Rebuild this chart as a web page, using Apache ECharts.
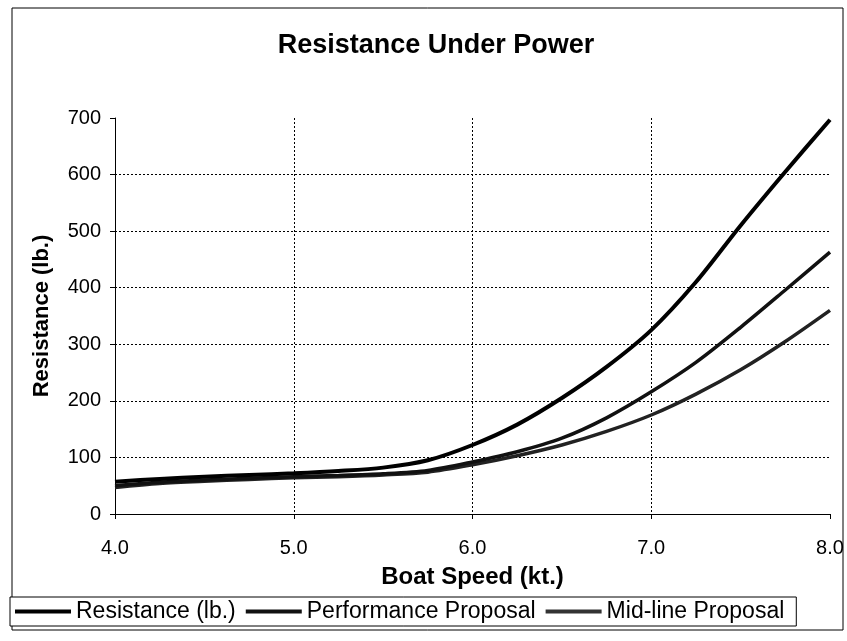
<!DOCTYPE html>
<html>
<head>
<meta charset="utf-8">
<script src="https://cdn.jsdelivr.net/npm/echarts@6/dist/echarts.min.js"></script>
<style>html,body{margin:0;padding:0;background:#fff}#c{width:847px;height:641px}</style>
</head>
<body>
<div id="c"></div>
<script>
const speeds = [4.0, 4.25, 4.5, 4.75, 5.0, 5.25, 5.5, 5.75, 6.0, 6.25, 6.5, 6.75, 7.0, 7.25, 7.5, 7.75, 8.0];
const resistance = [57, 62, 66, 69, 72, 76, 82, 95, 122, 158, 205, 260, 325, 410, 510, 605, 697];
const performance = [50, 56, 60, 63, 66, 68, 71, 77, 92, 110, 134, 170, 216, 268, 330, 396, 463];
const midline = [47, 54, 58, 61, 64, 66, 69, 74, 87, 103, 122, 146, 175, 212, 255, 305, 360];
const seriesNames = ['Resistance (lb.)', 'Performance Proposal', 'Mid-line Proposal'];
const xTicks = [4, 5, 6, 7, 8];

const FONT = '"Liberation Sans", Arial, sans-serif';
const pairs = ys => speeds.map((x, i) => [x, ys[i]]);

const chart = echarts.init(document.getElementById('c'), null, {renderer: 'canvas'});
chart.setOption({
  animation: false,
  backgroundColor: '#fff',
  title: {
    text: 'Resistance Under Power',
    left: 431, top: 27, textAlign: 'center',
    textStyle: {fontFamily: FONT, fontSize: 27, fontWeight: 'bold', color: '#000'}
  },
  graphic: [{
    type: 'rect', z: -1,
    shape: {x: 12, y: 8, width: 831, height: 622},
    style: {fill: 'none', stroke: '#000', lineWidth: 1}
  }],
  grid: {left: 115, right: 17, top: 118, bottom: 127, outerBoundsMode: 'none'},
  legend: {
    data: seriesNames,
    left: 10, top: 597, orient: 'horizontal',
    itemWidth: 56, itemHeight: 4, itemGap: 10,
    padding: [3, 12, 3, 5],
    borderColor: '#000', borderWidth: 1, backgroundColor: '#fff',
    textStyle: {fontFamily: FONT, fontSize: 23, color: '#000'},
    icon: 'rect'
  },
  xAxis: {
    type: 'value', min: 4, max: 8, interval: 1,
    name: 'Boat Speed (kt.)', nameLocation: 'middle', nameGap: 51,
    nameTextStyle: {fontFamily: FONT, fontSize: 24, fontWeight: 'bold', color: '#000'},
    axisLine: {show: true, lineStyle: {color: '#000', width: 1}},
    axisTick: {show: true, length: 5, lineStyle: {color: '#000'}},
    axisLabel: {margin: 24, fontFamily: FONT, fontSize: 20, color: '#000',
      formatter: v => xTicks.includes(v) ? v.toFixed(1) : ''},
    splitLine: {show: true, showMinLine: false, showMaxLine: false,
      lineStyle: {color: '#000', type: [2, 2], width: 1}}
  },
  yAxis: {
    type: 'value', min: 0, max: 700, interval: 100,
    name: 'Resistance (lb.)', nameLocation: 'middle', nameGap: 62,
    nameTextStyle: {fontFamily: FONT, fontSize: 22, fontWeight: 'bold', color: '#000'},
    axisLine: {show: true, lineStyle: {color: '#000', width: 1}},
    axisTick: {show: true, length: 5, lineStyle: {color: '#000'}},
    axisLabel: {margin: 14, fontFamily: FONT, fontSize: 20, color: '#000'},
    splitLine: {show: true, showMinLine: false, showMaxLine: false,
      lineStyle: {color: '#000', type: [2, 2], width: 1}}
  },
  series: [
    {name: seriesNames[0], type: 'line', data: pairs(resistance), smooth: 0.3,
      showSymbol: false, lineStyle: {color: '#000', width: 4}, itemStyle: {color: '#000'}, z: 3},
    {name: seriesNames[1], type: 'line', data: pairs(performance), smooth: 0.3,
      showSymbol: false, lineStyle: {color: '#111', width: 3.5}, itemStyle: {color: '#111'}, z: 2},
    {name: seriesNames[2], type: 'line', data: pairs(midline), smooth: 0.3,
      showSymbol: false, lineStyle: {color: '#222', width: 3.5}, itemStyle: {color: '#333'}, z: 1}
  ]
});
</script>
</body>
</html>
